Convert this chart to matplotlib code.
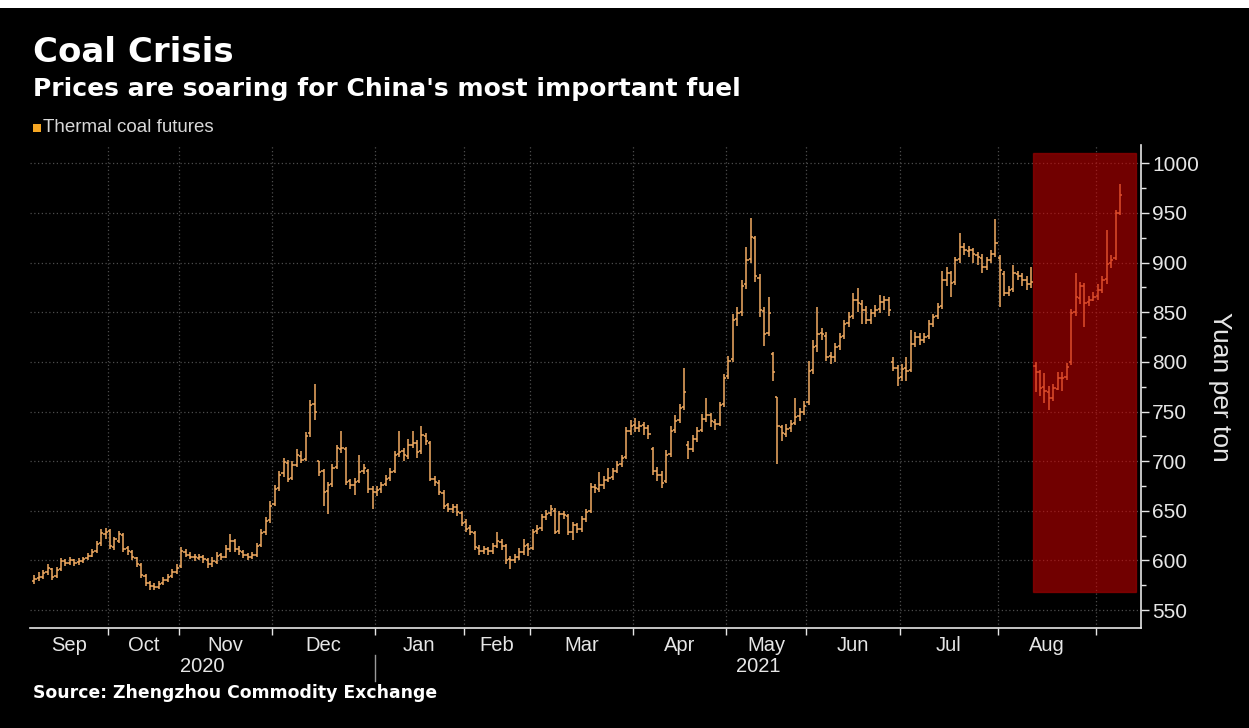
import matplotlib
matplotlib.use("Agg")
import matplotlib.pyplot as plt
import matplotlib.transforms as mtransforms
from matplotlib.patches import Rectangle
from matplotlib.ticker import FixedLocator, MultipleLocator
import numpy as np

# Trading days shown for each month, Sep 2020 through early Sep 2021
month_names = ["Sep", "Oct", "Nov", "Dec", "Jan", "Feb", "Mar", "Apr",
               "May", "Jun", "Jul", "Aug", ""]
month_days = [17, 16, 21, 23, 20, 15, 23, 21, 18, 21, 22, 22, 6]
year_names = ["2020", "2021"]
year_start_month = [0, 4]

# Daily OHLC, yuan per ton (one line per month)
opens = [
    579, 582, 583, 588, 591, 584, 591, 599, 597, 600, 598, 599, 602, 605, 610, 618, 627,
    630, 614, 620, 626, 613, 609, 602, 595, 584, 577, 574, 573, 577, 580, 584, 588,
    594, 609, 606, 604, 602, 604, 600, 596, 598, 606, 604, 612, 620, 612, 609, 606, 603, 606, 616, 629, 641,
    657, 673, 688, 698, 683, 696, 705, 702, 728, 758, 700, 690, 670, 677, 694, 712, 712, 680, 676, 680, 690, 690, 672,
    669, 672, 677, 683, 690, 707, 710, 705, 716, 718, 710, 725, 718, 682, 678, 668, 656, 652, 654, 648,
    639, 633, 628, 613, 610, 612, 610, 615, 619, 615, 601, 600, 604, 609, 616,
    613, 630, 633, 644, 648, 650, 630, 647, 645, 629, 636, 632, 642, 650, 674, 672, 676, 681, 684, 690, 697, 704, 730,
    736, 733, 736, 733, 712, 690, 686, 680, 707, 731, 741, 755, 716, 712, 722, 731, 742, 747, 739, 737, 758,
    786, 803, 843, 850, 878, 904, 925, 884, 851, 829, 808, 765, 734, 727, 733, 738, 745, 750,
    760, 792, 816, 829, 826, 806, 805, 816, 826, 839, 846, 862, 858, 852, 842, 849, 853, 860, 862, 800, 794,
    785, 794, 792, 818, 825, 822, 826, 838, 846, 856, 882, 889, 880, 904, 916, 912, 913, 908, 905, 896, 903, 909,
    905, 888, 869, 873, 888, 886, 882, 878, 796, 790, 775, 770, 764, 773, 784, 785, 800, 850, 864, 876, 860, 862,
    866, 872, 883, 900, 905, 950,
]
highs = [
    585, 588, 590, 596, 592, 593, 602, 601, 603, 601, 602, 604, 608, 612, 620, 632, 633,
    632, 624, 630, 628, 615, 611, 604, 597, 586, 579, 577, 579, 583, 586, 591, 596,
    614, 612, 609, 607, 607, 606, 602, 603, 609, 608, 616, 627, 622, 615, 611, 608, 609, 618, 632, 644, 660,
    676, 690, 703, 701, 700, 712, 710, 729, 762, 778, 700, 692, 679, 697, 716, 730, 714, 682, 683, 706, 697, 692, 675,
    675, 679, 686, 693, 710, 730, 713, 722, 730, 721, 735, 728, 720, 685, 681, 671, 658, 657, 657, 650,
    642, 636, 630, 616, 615, 614, 618, 629, 622, 617, 605, 607, 613, 622, 618,
    632, 636, 647, 651, 656, 653, 650, 650, 647, 639, 638, 645, 652, 678, 677, 689, 685, 693, 693, 700, 706, 734, 741,
    743, 740, 739, 736, 714, 694, 690, 711, 735, 746, 758, 794, 720, 726, 734, 748, 764, 749, 742, 760, 788,
    806, 848, 855, 882, 916, 945, 927, 888, 855, 865, 810, 765, 736, 737, 741, 764, 754, 761,
    801, 822, 855, 834, 830, 810, 819, 829, 842, 850, 869, 874, 862, 856, 853, 857, 867, 866, 865, 805, 797,
    798, 805, 832, 830, 829, 829, 842, 848, 859, 892, 896, 892, 906, 930, 920, 917, 915, 911, 909, 906, 913, 944,
    908, 892, 876, 898, 892, 889, 886, 896, 800, 792, 789, 776, 778, 790, 790, 799, 853, 889, 880, 879, 866, 870,
    878, 886, 933, 908, 953, 979,
]
lows = [
    576, 579, 581, 585, 580, 582, 589, 594, 595, 594, 595, 597, 600, 603, 608, 615, 622,
    612, 611, 618, 609, 606, 600, 593, 582, 574, 570, 570, 571, 575, 578, 582, 586,
    592, 603, 601, 599, 600, 597, 592, 593, 596, 600, 602, 609, 609, 606, 602, 600, 601, 604, 614, 626, 638,
    655, 670, 684, 679, 681, 694, 698, 700, 724, 741, 685, 655, 647, 674, 692, 708, 676, 672, 666, 678, 687, 668, 652,
    665, 668, 675, 680, 688, 704, 700, 702, 713, 703, 707, 716, 680, 675, 666, 652, 649, 648, 645, 635,
    629, 626, 611, 606, 607, 606, 607, 613, 611, 596, 591, 597, 600, 606, 605,
    611, 627, 630, 641, 645, 627, 627, 642, 626, 621, 628, 629, 639, 648, 668, 669, 672, 679, 681, 688, 694, 702, 726,
    729, 729, 726, 722, 686, 680, 673, 678, 704, 728, 738, 752, 702, 709, 719, 729, 739, 734, 731, 735, 755,
    783, 800, 836, 846, 873, 900, 880, 845, 816, 826, 781, 697, 720, 724, 729, 736, 740, 746,
    757, 788, 810, 822, 801, 798, 800, 812, 823, 835, 843, 850, 838, 838, 838, 845, 849, 852, 846, 791, 776,
    781, 781, 790, 815, 817, 819, 823, 835, 843, 853, 876, 865, 877, 900, 908, 906, 900, 898, 890, 893, 900, 906,
    855, 866, 866, 870, 882, 876, 872, 874, 770, 766, 759, 752, 761, 772, 771, 782, 797, 846, 858, 835, 856, 861,
    862, 869, 878, 895, 903, 948,
]
closes = [
    581, 583, 587, 592, 583, 590, 599, 597, 600, 597, 599, 601, 605, 609, 617, 628, 629,
    615, 622, 627, 612, 610, 603, 596, 585, 577, 574, 573, 576, 580, 583, 588, 592,
    610, 606, 604, 603, 604, 601, 596, 599, 605, 604, 612, 620, 612, 610, 606, 603, 606, 615, 628, 640, 655,
    672, 686, 699, 682, 696, 706, 701, 725, 757, 750, 689, 669, 676, 693, 713, 713, 679, 676, 679, 689, 693, 672, 669,
    671, 676, 682, 689, 706, 709, 706, 716, 718, 709, 726, 720, 682, 679, 669, 655, 652, 654, 649, 638,
    632, 629, 614, 610, 612, 610, 615, 620, 615, 600, 600, 604, 609, 615, 612,
    629, 632, 644, 647, 652, 629, 647, 646, 629, 636, 632, 642, 649, 674, 673, 676, 681, 683, 690, 696, 703, 730, 735,
    733, 735, 733, 727, 690, 686, 678, 706, 730, 740, 754, 770, 712, 722, 730, 742, 747, 740, 737, 757, 784,
    801, 842, 849, 876, 903, 926, 886, 852, 828, 849, 790, 735, 728, 732, 737, 744, 750, 756,
    791, 815, 828, 828, 805, 805, 815, 825, 838, 845, 862, 859, 852, 842, 849, 852, 860, 862, 852, 794, 784,
    793, 791, 818, 825, 822, 825, 838, 845, 855, 882, 889, 879, 903, 916, 913, 913, 909, 906, 896, 903, 909, 920,
    893, 869, 872, 889, 886, 882, 878, 880, 790, 774, 771, 764, 774, 784, 784, 795, 849, 865, 876, 859, 862, 865,
    872, 882, 899, 903, 950, 968,
]

# Shaded stretch from mid-August (in trading-day units) and its price band
highlight_days = (224.4, 247.6)
highlight_prices = (568, 1010)

BAR = "#f2ac62"
FG = "#e6e6e6"
GRID = "#4d4d4d"
REGULAR = ["Liberation Sans", "DejaVu Sans"]
BOLD = ["DejaVu Sans"]

W, H = 1249, 728
fig = plt.figure(figsize=(W / 100, H / 100), dpi=100, facecolor="black")
ax = fig.add_axes([30 / W, (H - 628) / H, 1111 / W, 483 / H], facecolor="black")

x = np.arange(len(closes))
tick_w = 0.5
ax.vlines(x, lows, highs, color=BAR, lw=1.1, zorder=3)
ax.hlines(opens, x - tick_w, x, color=BAR, lw=1.1, zorder=3)
ax.hlines(closes, x, x + tick_w, color=BAR, lw=1.1, zorder=3)

ax.add_patch(Rectangle((highlight_days[0], highlight_prices[0]),
                       highlight_days[1] - highlight_days[0],
                       highlight_prices[1] - highlight_prices[0],
                       facecolor="#d00000", edgecolor="#b00000", lw=1.0,
                       alpha=0.55, zorder=4))

xmin, xmax = -0.97, 248.7
ax.set_xlim(xmin, xmax)
ax.set_ylim(532, 1018.4)

# month boundaries and label centres
edges = np.cumsum(month_days)[:-1] - 0.5
bounds = np.concatenate([[xmin], edges, [xmax]])
centres = (bounds[:-1] + bounds[1:]) / 2

ax.xaxis.set_major_locator(FixedLocator(edges))
ax.xaxis.set_minor_locator(FixedLocator(centres[:-1]))
ax.set_xticklabels([])
ax.set_xticklabels(month_names[:-1], minor=True)
ax.tick_params(axis="x", which="major", direction="out", length=5, width=1,
               color=FG)
ax.tick_params(axis="x", which="minor", length=0, pad=6, labelsize=14.5,
               labelcolor=FG)
for lab in ax.get_xticklabels(minor=True):
    lab.set_family(REGULAR)

ax.yaxis.tick_right()
ax.yaxis.set_label_position("right")
ax.yaxis.set_major_locator(MultipleLocator(50))
ax.yaxis.set_minor_locator(MultipleLocator(25))
ax.tick_params(axis="y", which="major", direction="out", length=6, width=1,
               color=FG, labelcolor=FG, labelsize=15, pad=2)
ax.tick_params(axis="y", which="minor", direction="out", length=3.5, width=1,
               color=FG)
for lab in ax.get_yticklabels():
    lab.set_family(REGULAR)
ax.set_ylabel("Yuan per ton", rotation=270, color=FG, fontsize=19,
              family=REGULAR, labelpad=24)

ax.grid(True, which="major", axis="both", color=GRID, lw=0.9,
        linestyle=(0, (1, 2)))
ax.set_axisbelow(True)
for side in ["left", "top"]:
    ax.spines[side].set_visible(False)
for side in ["right", "bottom"]:
    ax.spines[side].set_color(FG)
    ax.spines[side].set_linewidth(1.2)

# year labels under the months, split by a short rule at January
year_bounds = [xmin] + [edges[m - 1] for m in year_start_month[1:]] + [xmax]
trans = mtransforms.blended_transform_factory(ax.transData, fig.transFigure)
for i, name in enumerate(year_names):
    cx = (year_bounds[i] + year_bounds[i + 1]) / 2
    fig.text(cx, 1 - 667 / H, name, transform=trans, ha="center", va="center",
             color=FG, fontsize=14.5, family=REGULAR)
for b in year_bounds[1:-1]:
    ax.plot([b, b], [1 - 655 / H, 1 - 681 / H], transform=trans, color="#9a9a9a",
            lw=1.0, clip_on=False)

# page strip above the chart
fig.patches.append(Rectangle((0, 1 - 8 / H), 1, 8 / H, transform=fig.transFigure,
                             facecolor="white", edgecolor="none"))

fig.text(33 / W, 1 - 62 / H, "Coal Crisis", color="white", fontsize=24.5,
         fontweight="bold", family=BOLD, va="baseline")
fig.text(33 / W, 1 - 96 / H, "Prices are soaring for China's most important fuel",
         color="white", fontsize=18, fontweight="bold", family=BOLD, va="baseline")
fig.patches.append(Rectangle((33 / W, 1 - 132 / H), 8 / W, 8 / H,
                             transform=fig.transFigure, facecolor="#f5a623",
                             edgecolor="none"))
fig.text(43 / W, 1 - 128 / H, "Thermal coal futures", color="#d8d8d8",
         fontsize=13.5, family=REGULAR, va="center")
fig.text(33 / W, 1 - 698 / H, "Source: Zhengzhou Commodity Exchange",
         color="white", fontsize=12.4, fontweight="bold", family=BOLD,
         va="baseline")

fig.savefig("out.png", dpi=100, facecolor="black")
